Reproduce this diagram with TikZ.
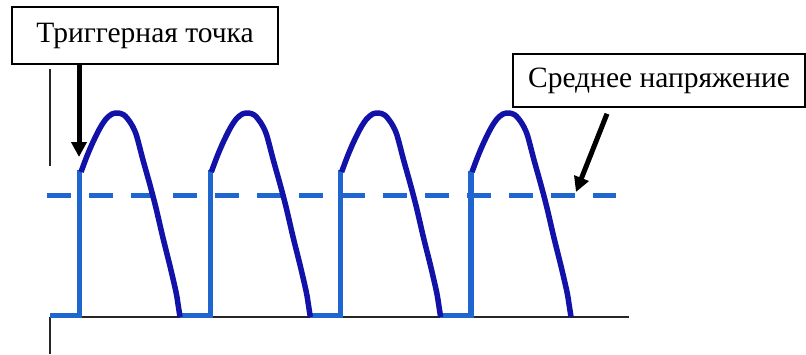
\documentclass[tikz,border=0pt]{standalone}
\usepackage{fontspec}
\setmainfont{Liberation Serif}
\usetikzlibrary{arrows.meta}
\definecolor{lightwave}{RGB}{31,102,209}
\definecolor{darkwave}{RGB}{18,18,168}
\begin{document}
\begin{tikzpicture}[x=1pt,y=-1pt,
  lbl/.style={draw=black, line width=1.5pt, font=\fontsize{29.5}{33}\selectfont, inner sep=0pt},
  callout/.style={line width=5pt, -{Triangle[length=15pt,width=15pt]}},
  axisline/.style={line width=1.2pt, black!85},
  sqwave/.style={line width=5.5pt, lightwave},
  meanline/.style={line width=5.5pt, lightwave, dash pattern=on 23.5pt off 18.5pt},
  arcwave/.style={line width=5.5pt, darkwave, line join=round}]
\useasboundingbox (0,0) rectangle (806,354);
% axes
\draw[axisline] (50,69) -- (50,166);
\draw[axisline] (50,317) -- (50,354);
\draw[axisline] (50,317) -- (629,317);
% square wave
\draw[sqwave] (50,315.5) -- (79.5,315.5) -- (79.5,170);
\draw[sqwave] (180,315.5) -- (210.5,315.5) -- (210.5,170);
\draw[sqwave] (310,315.5) -- (340.5,315.5) -- (340.5,170);
\draw[sqwave] (440,315.5) -- (471,315.5) -- (471,171);
% mean level
\draw[meanline] (47,195.5) -- (616,195.5);
% arcs
\foreach \dx in {0,130.3,260.6,391}
  \draw[arcwave, xshift=\dx] plot[smooth] coordinates {(81,172) (87,156) (93,142) (100,128) (106,119) (112,114) (118,113) (124,115) (130,122) (136,134) (143,160) (150,185) (156,208) (163,238) (170,266) (176,292) (178,304) (180,317)};
% labels
\node[lbl, minimum width=266pt, minimum height=57pt] (trig) at (145,35.5) {Триггерная точка};
\node[lbl, minimum width=292pt, minimum height=53pt] (mean) at (659,80.5) {Среднее напряжение};
\coordinate (tip1) at (79,157);
\coordinate (tip2) at (576,192);
\draw[callout] (trig.south -| tip1) -- (tip1);
\draw[callout] ([xshift=-52pt,yshift=-6pt]mean.south) -- (tip2);
\end{tikzpicture}
\end{document}
